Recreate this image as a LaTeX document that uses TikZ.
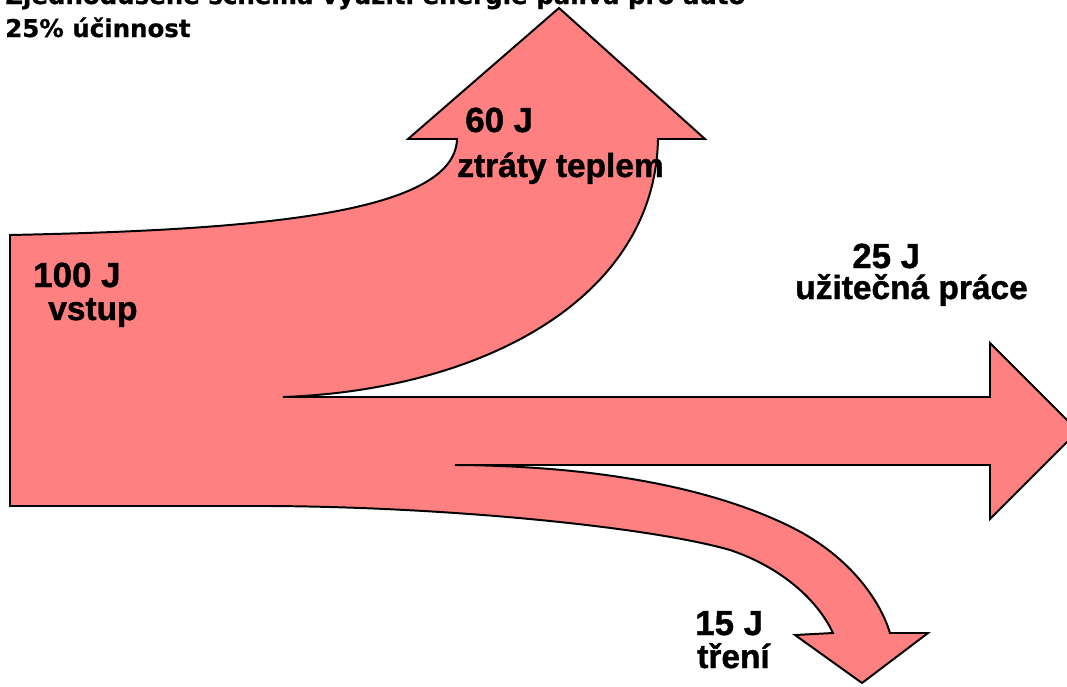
\documentclass[tikz,border=0pt]{standalone}
\usepackage{fontspec}
\setmainfont{Liberation Sans}
\newfontfamily\popisfont{Liberation Sans}[BoldFeatures={FakeBold=1.2}]
\newfontfamily\nadpisfont{DejaVu Sans}[BoldFeatures={FakeBold=0.8}]
\definecolor{tokcolor}{RGB}{255,128,128}
\begin{document}
\begin{tikzpicture}[x=0.025cm, y=-0.025cm,
    tok/.style={fill=tokcolor, draw=black, line width=1.4pt},
    cislo/.style={anchor=base west, inner sep=0, font=\popisfont\fontsize{24.8}{28}\selectfont\bfseries},
    popis/.style={anchor=base west, inner sep=0, font=\popisfont\fontsize{23.8}{27}\selectfont\bfseries},
    nadpis/.style={anchor=base west, inner sep=0, font=\nadpisfont\fontsize{17.4}{20}\selectfont\bfseries}
]
    \useasboundingbox (0,0) rectangle (1067,686);

    % Tok energie
    \draw[tok] (10,235) .. controls (250,230) and (455,215) .. (457,139)
        -- (408,139) -- (559,8) -- (705,139) -- (658,139)
        .. controls (655,300) and (480,390) .. (283,397)
        -- (990,397) -- (990,343) -- (1078,431) -- (990,519) -- (990,465)
        -- (455,465)
        .. controls (620,466) and (730,495) .. (797,530)
        .. controls (850,558) and (880,600) .. (890,633)
        -- (928,633) -- (862,683) -- (795,635) -- (833,633)
        .. controls (815,595) and (775,565) .. (730,550)
        .. controls (650,527) and (450,507) .. (270,506)
        -- (10,506) -- cycle;

    % Nadpis
    \node[nadpis] (nadpis1) at (5,4) {Zjednodušené schéma využití energie paliva pro auto};
    \node[nadpis] (nadpis2) at (5,37) {25\% účinnost};

    % Popisky
    \node[cislo] (vstupj) at (33,287) {100 J};
    \node[popis] (vstup) at (48,320) {vstup};
    \node[cislo] (teploj) at (465,132) {60 J};
    \node[popis] (teplo) at (457,177) {ztráty teplem};
    \node[cislo] (pracej) at (852,268) {25 J};
    \node[popis] (prace) at (795,299) {užitečná práce};
    \node[cislo] (trenij) at (695,635) {15 J};
    \node[popis] (treni) at (697,668) {tření};
\end{tikzpicture}
\end{document}
